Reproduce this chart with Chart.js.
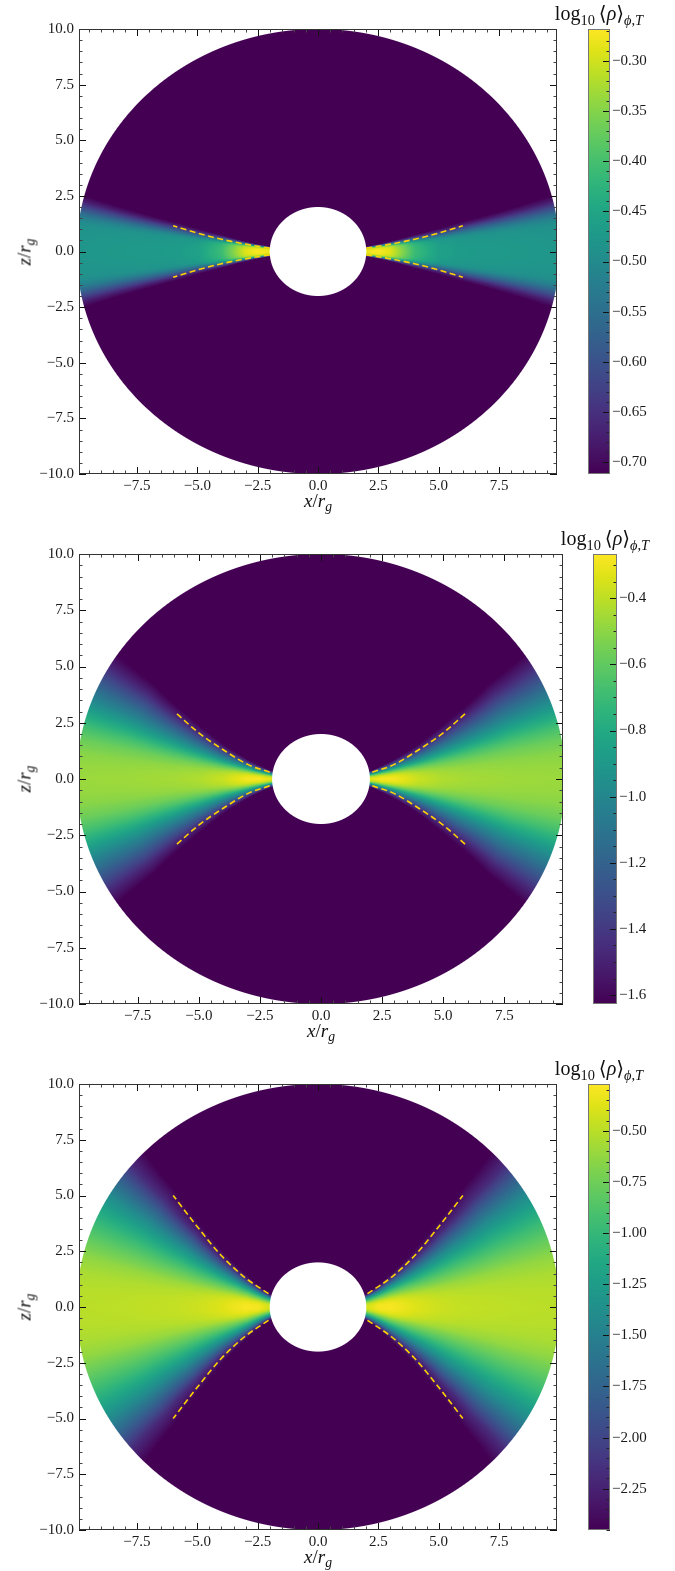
<!DOCTYPE html>
<html>
<head>
<meta charset="utf-8">
<script src="https://cdn.jsdelivr.net/npm/chart.js@4.4.1/dist/chart.umd.min.js"></script>
<style>
  body { margin: 0; background: #fff; width: 675px; height: 1571px; position: relative; overflow: hidden;
         font-family: "Liberation Serif", "DejaVu Serif", serif; }
  canvas { position: absolute; }
  .lbl { position: absolute; font-size: 19px; color: #111; white-space: nowrap; line-height: 1; }
  .lbl sub { font-size: 72%; vertical-align: -0.32em; line-height: 0; }
  .lbl.cbt { font-size: 20px; }
</style>
</head>
<body>
<script>
// Radial sample points (r/r_g) used by the three density maps
const radii = [2, 2.5, 3, 3.5, 4, 5, 6, 8, 10];
// Height above the midplane as a fraction of the local edge angle
const thetaFrac = [0, 0.1, 0.2, 0.3, 0.4, 0.5, 0.6, 0.7, 0.8, 0.9, 1.0];

// --- top panel: thin disc ---
const midplane1 = [-0.28, -0.27, -0.29, -0.35, -0.41, -0.46, -0.47, -0.475, -0.48];
const edgeAngle1 = [6.5, 7.5, 8.5, 9.5, 10.5, 11.5, 12.5, 13.5, 14.5];
const profile1 = [1, 1, 0.995, 0.985, 0.97, 0.94, 0.84, 0.64, 0.40, 0.16, 0];
const curveX1 = [2.0, 3.0, 4.0, 5.0, 6.0];
const curveZ1 = [0.15, 0.33, 0.55, 0.83, 1.16];
const cbMin1 = -0.712, cbMax1 = -0.268;
const cbTicks1 = [-0.70, -0.65, -0.60, -0.55, -0.50, -0.45, -0.40, -0.35, -0.30];

// --- middle panel ---
const midplane2 = [-0.33, -0.28, -0.285, -0.33, -0.38, -0.43, -0.45, -0.465, -0.47];
const edgeAngle2 = [10, 13, 15.5, 18, 20, 24, 27, 31.5, 33.5];
const profile2 = [1, 0.99, 0.965, 0.91, 0.82, 0.70, 0.56, 0.42, 0.27, 0.12, 0];
const curveX2 = [2.1, 3.0, 4.0, 5.0, 5.9];
const curveZ2 = [0.3, 0.65, 1.3, 2.05, 2.9];
const cbMin2 = -1.627, cbMax2 = -0.266;
const cbTicks2 = [-1.6, -1.4, -1.2, -1.0, -0.8, -0.6, -0.4];

// --- bottom panel: thick disc ---
const midplane3 = [-0.42, -0.30, -0.29, -0.33, -0.38, -0.44, -0.47, -0.49, -0.50];
const edgeAngle3 = [16, 20, 24, 27, 29.5, 33.5, 37, 41.5, 44];
const profile3 = [1, 0.995, 0.975, 0.93, 0.85, 0.76, 0.65, 0.51, 0.33, 0.13, 0];
const curveX3 = [2.05, 3.0, 4.0, 5.0, 6.0];
const curveZ3 = [0.6, 1.3, 2.3, 3.6, 5.0];
const cbMin3 = -2.452, cbMax3 = -0.271;
const cbTicks3 = [-2.25, -2.00, -1.75, -1.50, -1.25, -1.00, -0.75, -0.50];

// axis ticks shared by all panels
const xTicks = [-7.5, -5.0, -2.5, 0.0, 2.5, 5.0, 7.5];
const yTicks = [-10.0, -7.5, -5.0, -2.5, 0.0, 2.5, 5.0, 7.5, 10.0];
const minorStep = 0.5;
const xLim = 9.9, yLim = 10;
const rInner = 2, rOuter = 10;

// viridis, 21 stops
const viridis = ['#440154', '#471365', '#482475', '#463480', '#414487', '#3b528b', '#355f8d',
  '#2f6c8e', '#2a788e', '#25848e', '#21918c', '#1e9c89', '#22a884', '#2fb47c', '#44bf70',
  '#5ec962', '#7ad151', '#9bd93c', '#bddf26', '#dfe318', '#fde725'];
const cmapRGB = viridis.map(h => [1, 3, 5].map(i => parseInt(h.slice(i, i + 2), 16)));

function cmap(t) {
  t = Math.min(1, Math.max(0, t)) * (cmapRGB.length - 1);
  const i = Math.min(Math.floor(t), cmapRGB.length - 2), f = t - i;
  const a = cmapRGB[i], b = cmapRGB[i + 1];
  return [a[0] + (b[0] - a[0]) * f, a[1] + (b[1] - a[1]) * f, a[2] + (b[2] - a[2]) * f];
}

function interp(xs, ys, x) {
  if (x <= xs[0]) return ys[0];
  if (x >= xs[xs.length - 1]) return ys[ys.length - 1];
  let i = 1;
  while (xs[i] < x) i++;
  const f = (x - xs[i - 1]) / (xs[i] - xs[i - 1]);
  return ys[i - 1] + (ys[i] - ys[i - 1]) * f;
}

const clamp01 = v => Math.min(1, Math.max(0, v));
const fmt = (v, dec) => (v < -1e-9 ? '\u2212' : '') + Math.abs(v).toFixed(dec);

const panels = [
  { mid: midplane1, edge: edgeAngle1, prof: profile1, cx: curveX1, cz: curveZ1,
    vmin: cbMin1, vmax: cbMax1, cbTicks: cbTicks1, cbMinor: 0.01, dec: 2,
    box: { left: 79, top: 29, right: 557, bottom: 474 }, bar: { left: 588, right: 610 } },
  { mid: midplane2, edge: edgeAngle2, prof: profile2, cx: curveX2, cz: curveZ2,
    vmin: cbMin2, vmax: cbMax2, cbTicks: cbTicks2, cbMinor: 0.05, dec: 1,
    box: { left: 79, top: 554, right: 563, bottom: 1004 }, bar: { left: 593, right: 617 } },
  { mid: midplane3, edge: edgeAngle3, prof: profile3, cx: curveX3, cz: curveZ3,
    vmin: cbMin3, vmax: cbMax3, cbTicks: cbTicks3, cbMinor: 0.05, dec: 2,
    box: { left: 79, top: 1084, right: 557, bottom: 1530 }, bar: { left: 588, right: 610 } }
];

const tickFont = { family: 'Liberation Serif', size: 15 };
const tickColor = '#1a1a1a';
const TOP_PAD = 29, BOTTOM_PAD = 50;

// rho(r, theta) map painted pixel by pixel through the chart scales
function densityLayer(p) {
  return {
    id: 'density',
    beforeDatasetsDraw(chart) {
      const { ctx, chartArea: a, scales: { x: sx, y: sy } } = chart;
      const w = Math.round(a.right - a.left), h = Math.round(a.bottom - a.top);
      const img = ctx.createImageData(w, h);
      const kx = (sx.max - sx.min) / (sx.right - sx.left);
      const ky = (sy.max - sy.min) / (sy.bottom - sy.top);
      for (let j = 0; j < h; j++) {
        const z = sy.getValueForPixel(a.top + j + 0.5);
        for (let i = 0; i < w; i++) {
          const x = sx.getValueForPixel(a.left + i + 0.5);
          const r = Math.hypot(x, z);
          const dr = Math.hypot(x / r * kx, z / r * ky);
          const cover = clamp01(0.5 - (r - rOuter) / dr) * clamp01(0.5 + (r - rInner) / dr);
          if (cover <= 0) continue;
          const th = Math.atan2(Math.abs(z), Math.abs(x)) * 180 / Math.PI;
          const m = interp(radii, p.mid, r);
          const e = interp(radii, p.edge, r);
          const f = interp(thetaFrac, p.prof, th / e);
          const v = p.vmin + (m - p.vmin) * f;
          const c = cmap((v - p.vmin) / (p.vmax - p.vmin));
          const k = (j * w + i) * 4;
          img.data[k] = c[0]; img.data[k + 1] = c[1]; img.data[k + 2] = c[2];
          img.data[k + 3] = Math.round(255 * cover);
        }
      }
      const off = document.createElement('canvas');
      off.width = w; off.height = h;
      off.getContext('2d').putImageData(img, 0, 0);
      ctx.drawImage(off, a.left, a.top);
    }
  };
}

function minorValues(lo, hi, step, majors) {
  const out = [];
  for (let k = Math.ceil(lo / step - 1e-6); k <= Math.floor(hi / step + 1e-6); k++) {
    const v = k * step;
    if (!majors.some(m => Math.abs(m - v) < step * 0.01)) out.push(v);
  }
  return out;
}

// spines plus inward major/minor ticks on all four sides
const frame = {
  id: 'frame',
  afterDraw(chart) {
    const { ctx, chartArea: a, scales: { x: sx, y: sy } } = chart;
    ctx.save();
    ctx.lineWidth = 1;
    const vt = (v, len, col) => {
      const px = Math.round(sx.getPixelForValue(v)) + 0.5;
      ctx.strokeStyle = col;
      ctx.beginPath();
      ctx.moveTo(px, a.bottom); ctx.lineTo(px, a.bottom - len);
      ctx.moveTo(px, a.top); ctx.lineTo(px, a.top + len);
      ctx.stroke();
    };
    const ht = (v, len, col) => {
      const py = Math.round(sy.getPixelForValue(v)) + 0.5;
      ctx.strokeStyle = col;
      ctx.beginPath();
      ctx.moveTo(a.left, py); ctx.lineTo(a.left + len, py);
      ctx.moveTo(a.right, py); ctx.lineTo(a.right - len, py);
      ctx.stroke();
    };
    minorValues(-xLim, xLim, minorStep, xTicks).forEach(v => vt(v, 3.5, '#444'));
    minorValues(-yLim, yLim, minorStep, yTicks).forEach(v => ht(v, 3.5, '#444'));
    xTicks.forEach(v => vt(v, 7, '#111'));
    yTicks.forEach(v => ht(v, 7, '#111'));
    ctx.strokeStyle = '#333';
    ctx.strokeRect(a.left + 0.5, a.top + 0.5, a.right - a.left - 1, a.bottom - a.top - 1);
    ctx.restore();
  }
};

function colorbarLayer(p) {
  return {
    id: 'colorbar',
    beforeDraw(chart) {
      const { ctx, chartArea: a, scales: { y: sy } } = chart;
      for (let py = a.top; py < a.bottom; py++) {
        const c = cmap((sy.getValueForPixel(py + 0.5) - p.vmin) / (p.vmax - p.vmin));
        ctx.fillStyle = `rgb(${c[0] | 0},${c[1] | 0},${c[2] | 0})`;
        ctx.fillRect(a.left, py, a.right - a.left, 1);
      }
    },
    afterDraw(chart) {
      const { ctx, chartArea: a, scales: { y: sy } } = chart;
      ctx.save();
      ctx.lineWidth = 1;
      const tk = (v, len, col) => {
        const py = Math.round(sy.getPixelForValue(v)) + 0.5;
        ctx.strokeStyle = col;
        ctx.beginPath();
        ctx.moveTo(a.right, py); ctx.lineTo(a.right - len, py);
        ctx.stroke();
      };
      minorValues(p.vmin, p.vmax, p.cbMinor, p.cbTicks).forEach(v => tk(v, 3.5, '#222'));
      p.cbTicks.forEach(v => tk(v, 7, '#111'));
      ctx.strokeStyle = '#777';
      ctx.strokeRect(a.left + 0.5, a.top + 0.5, a.right - a.left - 1, a.bottom - a.top - 1);
      ctx.restore();
    }
  };
}

function addLabel(html, x, y, rotate, cls) {
  const d = document.createElement('div');
  d.className = 'lbl' + (cls ? ' ' + cls : '');
  d.innerHTML = html;
  d.style.left = x + 'px';
  d.style.top = y + 'px';
  d.style.transform = 'translate(-50%, -50%)' + (rotate ? ' rotate(-90deg)' : '');
  document.body.appendChild(d);
  return d;
}

panels.forEach(p => {
  const b = p.box;
  // main axes
  const cv = document.createElement('canvas');
  const W = b.right + 8, H = (b.bottom - b.top) + TOP_PAD + BOTTOM_PAD;
  cv.width = W; cv.height = H;
  cv.style.width = W + 'px'; cv.style.height = H + 'px';
  cv.style.left = '0px'; cv.style.top = (b.top - TOP_PAD) + 'px';
  document.body.appendChild(cv);

  const branch = (sx, sz) => p.cx.map((x, i) => ({ x: sx * x, y: sz * p.cz[i] }));
  const curves = [[1, 1], [1, -1], [-1, 1], [-1, -1]].map(([sx, sz]) => ({
    data: branch(sx, sz),
    showLine: true,
    borderColor: '#ffd200',
    borderWidth: 1.6,
    borderDash: [6, 3.5],
    pointRadius: 0,
    cubicInterpolationMode: 'monotone',
    fill: false
  }));

  new Chart(cv, {
    type: 'scatter',
    data: { datasets: curves },
    options: {
      responsive: false,
      animation: false,
      events: [],
      layout: { padding: { top: TOP_PAD, left: 0, right: 8, bottom: 0 } },
      plugins: { legend: { display: false }, tooltip: { enabled: false } },
      scales: {
        x: {
          type: 'linear', min: -xLim, max: xLim,
          grid: { display: false, drawTicks: false },
          border: { display: false },
          afterBuildTicks: s => { s.ticks = xTicks.map(v => ({ value: v })); },
          afterFit: s => { s.height = BOTTOM_PAD; },
          ticks: { callback: v => fmt(v, 1), font: tickFont, color: tickColor, padding: 3,
                   maxRotation: 0, autoSkip: false }
        },
        y: {
          type: 'linear', min: -yLim, max: yLim,
          grid: { display: false, drawTicks: false },
          border: { display: false },
          afterBuildTicks: s => { s.ticks = yTicks.map(v => ({ value: v })); },
          afterFit: s => { s.width = b.left; },
          ticks: { callback: v => fmt(v, 1), font: tickFont, color: tickColor, padding: 5, autoSkip: false }
        }
      }
    },
    plugins: [densityLayer(p), frame]
  });

  // colorbar
  const cb = document.createElement('canvas');
  const CW = 80;
  cb.width = CW; cb.height = H;
  cb.style.width = CW + 'px'; cb.style.height = H + 'px';
  cb.style.left = p.bar.left + 'px'; cb.style.top = (b.top - TOP_PAD) + 'px';
  document.body.appendChild(cb);

  new Chart(cb, {
    type: 'scatter',
    data: { datasets: [] },
    options: {
      responsive: false,
      animation: false,
      events: [],
      layout: { padding: { top: TOP_PAD, left: 0, right: 0, bottom: BOTTOM_PAD } },
      plugins: { legend: { display: false }, tooltip: { enabled: false } },
      scales: {
        x: { display: false, min: 0, max: 1 },
        y: {
          type: 'linear', position: 'right', min: p.vmin, max: p.vmax,
          grid: { display: false, drawTicks: false },
          border: { display: false },
          afterBuildTicks: s => { s.ticks = p.cbTicks.map(v => ({ value: v })); },
          afterFit: s => { s.width = CW - (p.bar.right - p.bar.left); },
          ticks: { callback: v => fmt(v, p.dec), font: tickFont, color: tickColor, padding: 2, autoSkip: false }
        }
      }
    },
    plugins: [colorbarLayer(p)]
  });

  // axis and colorbar titles
  const cxp = (b.left + b.right) / 2, cyp = (b.top + b.bottom) / 2;
  addLabel('<i>x</i>/<i>r</i><sub><i>g</i></sub>', cxp, b.bottom + 26, false);
  addLabel('<i>z</i>/<i>r</i><sub><i>g</i></sub>', 24, cyp, true);
  addLabel('log<sub>10</sub>\u2009\u27e8<i>\u03c1</i>\u27e9<sub><i>\u03d5</i>,<i>T</i></sub>',
           (p.bar.left + p.bar.right) / 2, b.top - 16, false, 'cbt');
});
</script>
</body>
</html>
